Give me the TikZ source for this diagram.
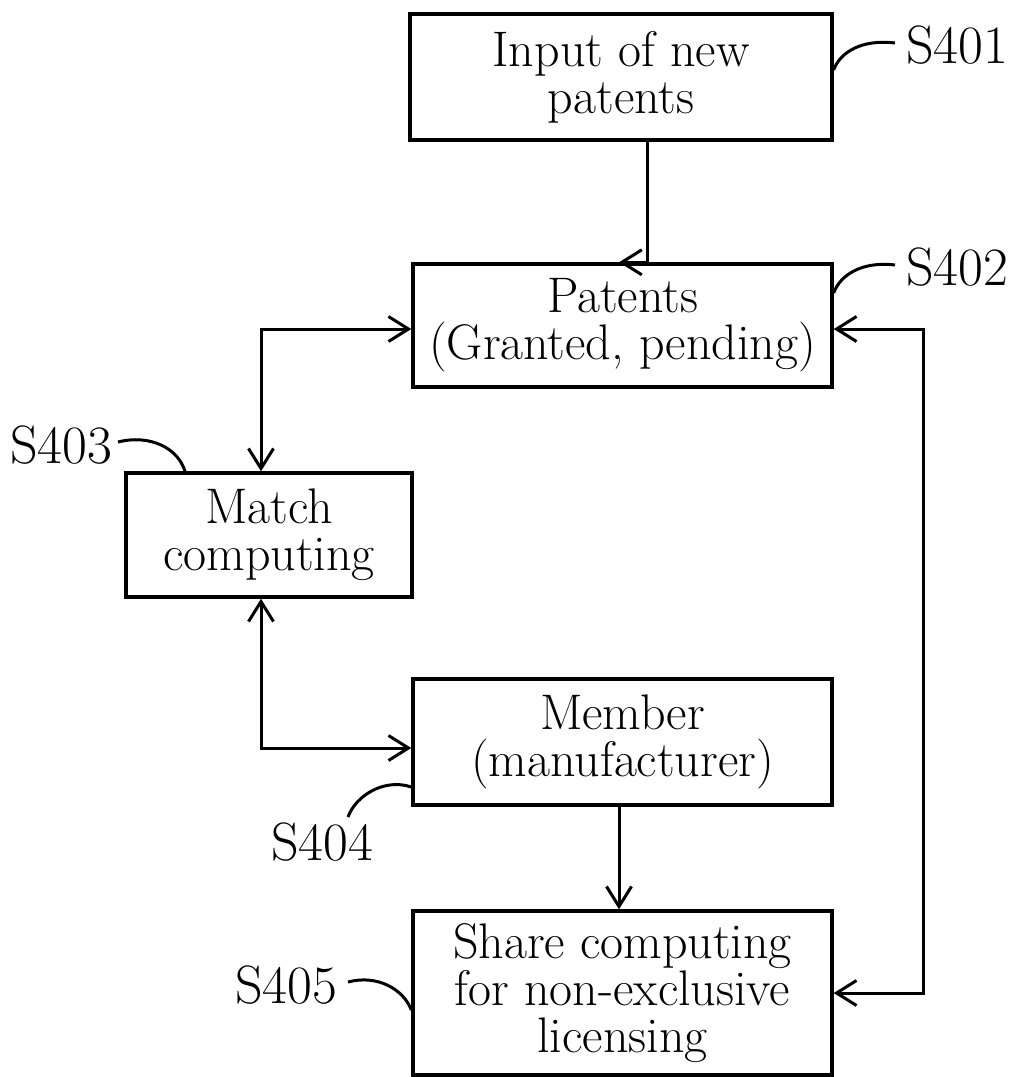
\documentclass[tikz,border=0pt]{standalone}
\usetikzlibrary{arrows.meta}
\begin{document}
\begin{tikzpicture}[x=1pt,y=-1pt,
  box/.style={draw, line width=3.4pt, inner sep=0pt, align=center, font=\fontsize{50}{47}\selectfont},
  lbl/.style={inner sep=0pt, font=\fontsize{54}{54}\selectfont, anchor=base west},
  conn/.style={line width=3pt},
  tipend/.style={-{Straight Barb[length=20pt,width=25pt]}},
  tipboth/.style={{Straight Barb[length=20pt,width=25pt]}-{Straight Barb[length=20pt,width=25pt]}}]
\useasboundingbox (0,0) rectangle (1015,1077);
% boxes
\node[box, minimum width=422pt, minimum height=126pt] (b1) at (621,77) {Input of new\\patents};
\node[box, minimum width=419pt, minimum height=123pt] (b2) at (622.5,325.5) {Patents\\(Granted, pending)};
\node[box, minimum width=286pt, minimum height=124pt] (b3) at (269,535) {Match\\computing};
\node[box, minimum width=419pt, minimum height=126pt] (b4) at (622.5,742) {Member\\(manufacturer)};
\node[box, minimum width=419pt, minimum height=164pt] (b5) at (622.5,993) {Share computing\\for non-exclusive\\licensing};
% helper coordinates
\coordinate (xa) at (647,0);
\coordinate (xt) at (619,0);
\coordinate (xm) at (261,0);
\coordinate (xc) at (619,0);
\coordinate (xr) at (923,0);
\coordinate (ya) at (0,329);
\coordinate (yb) at (0,748);
\coordinate (yc) at (0,993);
% connectors
\draw[conn] (b1.south -| xa) -- (b2.north -| xa);
\draw[conn, tipend] (b2.north -| xa) -- (b2.north -| xt);
\draw[conn, tipboth] (b3.north -| xm) |- (b2.west |- ya);
\draw[conn, tipboth] (b3.south -| xm) |- (b4.west |- yb);
\draw[conn, tipend] (b4.south -| xc) -- (b5.north -| xc);
\draw[conn, tipboth] (b2.east |- ya) -- (xr |- ya) -- (xr |- yc) -- (b5.east |- yc);
% labels
\node[lbl] (l1) at (906,63) {S401};
\node[lbl] (l2) at (906,285) {S402};
\node[lbl] (l3) at (10,463) {S403};
\node[lbl] (l4) at (271,860) {S404};
\node[lbl] (l5) at (235,1003) {S405};
\coordinate (c1) at (895,43);
\coordinate (c2) at (895,265);
\coordinate (c3) at (118,442);
\coordinate (c4) at (348,817);
\coordinate (c5) at (348,982);
\coordinate (e1) at (0,70);
\coordinate (e2) at (0,293);
\coordinate (e3) at (185,0);
\coordinate (e4) at (0,787);
\coordinate (e5) at (0,1010);
\draw[conn] (c1) .. controls (862,39) and (840,52) .. (b1.east |- e1);
\draw[conn] (c2) .. controls (862,261) and (840,275) .. (b2.east |- e2);
\draw[conn] (c3) .. controls (150,434) and (178,448) .. (b3.north -| e3);
\draw[conn] (b4.west |- e4) .. controls (385,778) and (356,795) .. (c4);
\draw[conn] (c5) .. controls (378,974) and (404,990) .. (b5.west |- e5);
\end{tikzpicture}
\end{document}
